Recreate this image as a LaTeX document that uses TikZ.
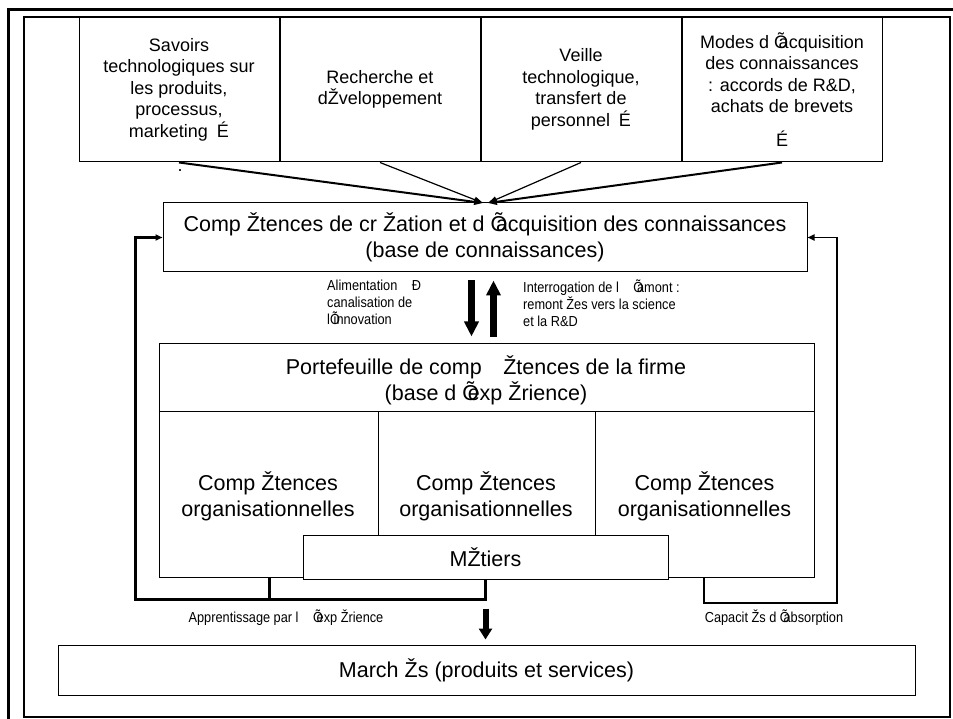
\documentclass[tikz,border=0pt]{standalone}
\usepackage{fontspec}
\setmainfont{Liberation Sans}
\newfontfamily\narrowsf[FakeStretch=0.88]{Liberation Sans}
\usetikzlibrary{positioning,arrows.meta}
\newcommand{\ovq}{\makebox[0.25em][l]{Õ}}

\begin{document}
\begin{tikzpicture}[x=1pt,y=-1pt,
    box/.style={draw,line width=1pt,inner sep=0pt,align=center},
    topbox/.style={box,minimum width=200pt,minimum height=145pt,font=\fontsize{18}{21.5}\selectfont},
    bigbox/.style={box,font=\fontsize{21.5}{25.5}\selectfont},
    bigtext/.style={align=center,inner sep=0pt,font=\fontsize{21.5}{26}\selectfont},
    lbl/.style={inner sep=0pt,align=left,font=\fontsize{14.5}{17}\narrowsf},
    feed/.style={-{Triangle[length=9pt,width=6pt]}},
    loopline/.style={-{Triangle[length=7pt,width=6pt]}},
    bigarrow/.style={line width=7pt,-{Triangle[length=15pt,width=14pt]}}]
    \useasboundingbox (0,0) rectangle (953,719);
    \draw[line width=3pt] (8,719) -- (8,9.5) -- (953,9.5);
    \draw[line width=1.5pt] (24,17) rectangle (950,717);

    \node[topbox] (savoirs) at (179,89.5) {Savoirs\\technologiques sur\\les produits,\\processus,\\marketing\enspace É};
    \node[topbox,right=0pt of savoirs] (recherche) {Recherche et\\dŽveloppement};
    \node[topbox,right=0pt of recherche] (veille) {Veille\\technologique,\\transfert de\\personnel\enspace É};
    \node[topbox,right=0pt of veille] (modes) {Modes d \ovq acquisition\\des connaissances\\: accords de R\&D,\\achats de brevets\\[12pt]É};
    \node[inner sep=0pt,font=\fontsize{18}{21.5}\selectfont] (dot) at (180,171) {.};

    \node[bigbox,minimum width=644pt,minimum height=69pt] (base) at (485,237.5) {Comp Žtences de cr Žation et d \ovq acquisition des connaissances\\(base de connaissances)};

    \coordinate (tipL) at (483,203);
    \coordinate (tipR) at (488,203);
    \draw[feed,line width=2pt] (savoirs.south) -- (tipL);
    \draw[feed,line width=1.2pt] (recherche.south) -- (tipL);
    \draw[feed,line width=1.2pt] (veille.south) -- (tipR);
    \draw[feed,line width=2pt] (modes.south) -- (tipR);

    \node[lbl,anchor=north west] (alim) at (327,280) {Alimentation\quad Ð\\canalisation de\\l\ovq innovation};
    \node[lbl,anchor=north west] (interro) at (523,280) {Interrogation de l\quad\ovq amont :\\remont Žes vers la science\\et la R\&D};

    % portefeuille
    \node[bigbox,minimum width=655pt,minimum height=234pt] (port) at (486.5,460) {};
    \node[bigtext] (porthead) at (486,380) {Portefeuille de comp\quad Žtences de la firme\\(base d \ovq exp Žrience)};
    \draw[line width=1pt] (port.west |- 0,411) -- (port.east |- 0,411);
    \draw[line width=1pt] (378,411) -- (378,535);
    \draw[line width=1pt] (595,411) -- (595,535);
    \node[bigtext] (compA) at (268,496.5) {Comp Žtences\\organisationnelles};
    \node[bigtext] (compB) at (486,496.5) {Comp Žtences\\organisationnelles};
    \node[bigtext] (compC) at (704.5,496.5) {Comp Žtences\\organisationnelles};
    \node[bigbox,fill=white,minimum width=365pt,minimum height=44pt] (metiers) at (485.5,557) {MŽtiers};

    \draw[bigarrow,shorten <=8pt,shorten >=6pt] ([xshift=-13.5pt]base.south) -- ([xshift=-13.5pt]base.south |- port.north);
    \draw[bigarrow,shorten <=6pt,shorten >=8pt] ([xshift=7pt]port.north) -- ([xshift=7pt]port.north |- base.south);

    \node[bigbox,minimum width=857pt,minimum height=50pt] (market) at (486.5,670) {March Žs (produits et services)};

    % boucles
    \coordinate (lA) at (269,599);
    \coordinate (lB) at (135,599);
    \draw[line width=3pt] (port.south -| lA) -- (lA);
    \draw[loopline,line width=3pt] (metiers.south) -- (metiers.south |- lA) -- (lB) -- (lB |- base.west) -- (base.west);
    \coordinate (rA) at (704,603);
    \coordinate (rB) at (837,603);
    \draw[loopline,line width=1.8pt] (port.south -| rA) -- (rA) -- (rB) -- (rB |- base.east) -- (base.east);
    \node[lbl] (appr) at (286,618) {Apprentissage par l\quad\ovq exp Žrience};
    \node[lbl] (capa) at (774,618) {Capacit Žs d \ovq absorption};

    \draw[line width=6pt,-{Triangle[length=11pt,width=13pt]},shorten >=5pt] ([yshift=-29pt]metiers.south) -- (metiers.south |- market.north);
\end{tikzpicture}
\end{document}
